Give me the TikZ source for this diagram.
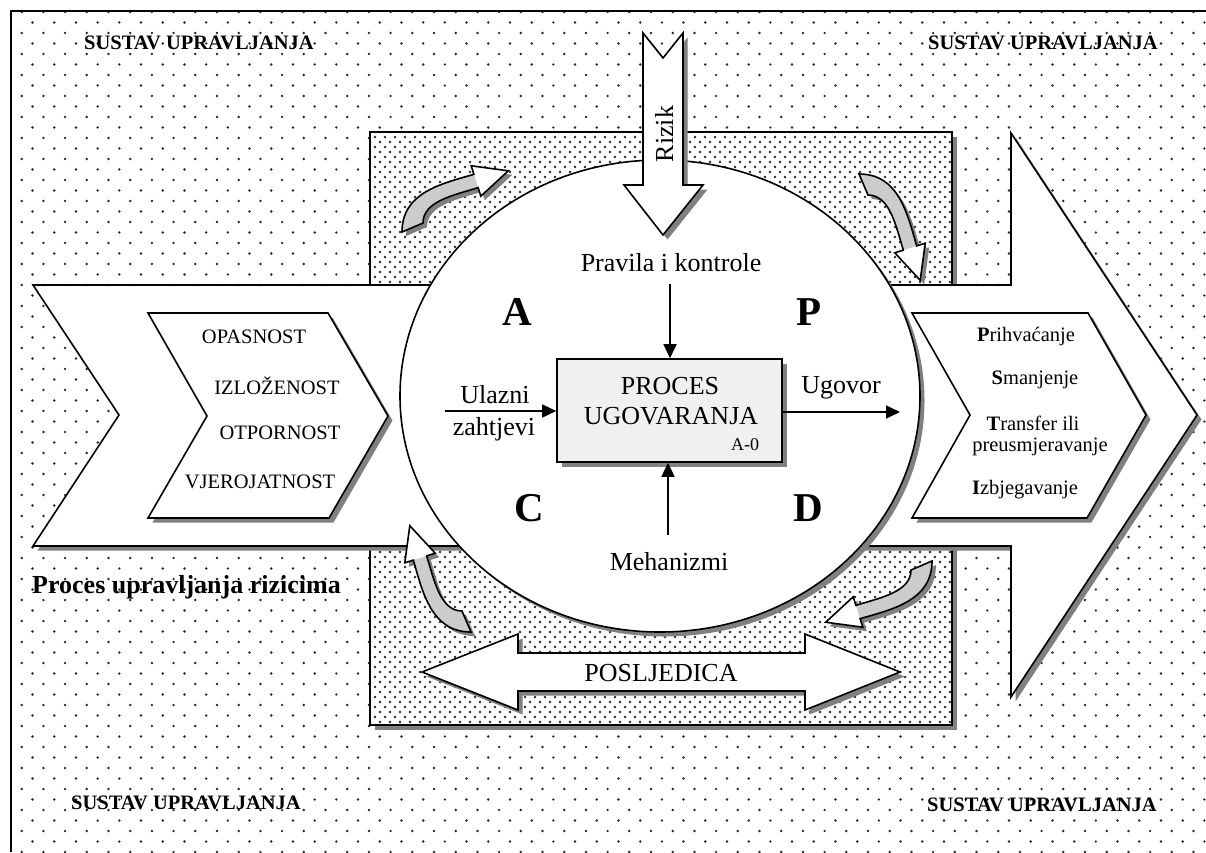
\documentclass[tikz,border=0pt]{standalone}
\usepackage{fontspec}
\setmainfont{Liberation Serif}
\usetikzlibrary{arrows.meta,shadows,patterns}
\pgfdeclarepatternformonly{sparsedots}{\pgfqpoint{-1.5pt}{-1.5pt}}{\pgfqpoint{23.2pt}{22.5pt}}{\pgfqpoint{21.7pt}{21pt}}{%
  \pgfpathcircle{\pgfqpoint{0pt}{0pt}}{1.35pt}%
  \pgfpathcircle{\pgfqpoint{10.85pt}{10.5pt}}{1.35pt}%
  \pgfusepath{fill}}
\pgfdeclarepatternformonly{densedots}{\pgfqpoint{-1.5pt}{-1.5pt}}{\pgfqpoint{11.5pt}{11.5pt}}{\pgfqpoint{10pt}{10pt}}{%
  \pgfpathcircle{\pgfqpoint{0pt}{0pt}}{1.3pt}%
  \pgfpathcircle{\pgfqpoint{5pt}{5pt}}{1.3pt}%
  \pgfusepath{fill}}
\newcommand\curvedarrow[3]{%
  \begin{scope}[shift={(#1+4,#2+4)},rotate=#3]
    \fill[black!50] (-54,31) .. controls (-54,-8) and (-16,-17) .. (17.9,-26.65) -- (15.2,-35.2) -- (52.3,-30.2) -- (24.8,-4.8) -- (22.1,-13.35) .. controls (-1.6,-5.9) and (-33,0) .. (-33,22) -- cycle;
  \end{scope}
  \begin{scope}[shift={(#1,#2)},rotate=#3]
    \fill[black!20] (-54,31) .. controls (-54,-8) and (-16,-17) .. (17.9,-26.65) -- (22.1,-13.35) .. controls (-1.6,-5.9) and (-33,0) .. (-33,22) -- cycle;
    \fill[white] (15.2,-35.2) -- (52.3,-30.2) -- (24.8,-4.8) -- cycle;
    \draw[ol] (-54,31) .. controls (-54,-8) and (-16,-17) .. (17.9,-26.65) -- (15.2,-35.2) -- (52.3,-30.2) -- (24.8,-4.8) -- (22.1,-13.35) .. controls (-1.6,-5.9) and (-33,0) .. (-33,22) -- cycle;
  \end{scope}}
\begin{document}
\begin{tikzpicture}[x=1pt,y=-1pt,
  ol/.style={draw=black,line width=1.6pt,line join=miter},
  shad/.style={drop shadow={shadow xshift=4.5pt,shadow yshift=-4.5pt,fill=black!50,opacity=1}},
  arr/.style={line width=1.6pt,-{Triangle[length=14pt,width=13pt]}},
  tx/.style={inner sep=0pt,font=\fontsize{26}{30}\selectfont},
  tsm/.style={inner sep=0pt,font=\fontsize{20.5}{24}\selectfont},
  tbig/.style={inner sep=0pt,font=\fontsize{41}{45}\selectfont\bfseries},
  tsus/.style={inner sep=0pt,font=\fontsize{20.5}{24}\selectfont\bfseries}]
\useasboundingbox (0,0) rectangle (1206,852);
\fill[white] (0,0) rectangle (1206,852);
% background dots
\fill[pattern=sparsedots,pattern color=black!85] (11,11) rectangle (1206,852);
\draw[line width=1.6pt] (11,852) -- (11,11) -- (1206,11);
% inner dense rectangle
\path[fill=white,shad] (370,132) rectangle (952,725);
\fill[pattern=densedots,pattern color=black!85] (370,132) rectangle (952,725);
\draw[ol] (370,132) rectangle (952,725);
% big arrow
\path[fill=white,ol,shad] (33,285) -- (1011,285) -- (1011,133) -- (1197,415) -- (1011,697) -- (1011,546) -- (33,546) -- (119,415) -- cycle;
% ellipse
\path[fill=white,ol,shad] (660,396) ellipse [x radius=260pt, y radius=236pt];
% Rizik arrow
\path[fill=white,ol,shad] (643,33) -- (663,58) -- (683,33) -- (683,185) -- (703,185) -- (663,235) -- (624,185) -- (643,185) -- cycle;
\node[tx,rotate=90] (rizik) at (664,134) {Rizik};
% POSLJEDICA arrow
\path[fill=white,ol,shad] (422,672) -- (518,634) -- (518,653) -- (805,653) -- (805,634) -- (900,672) -- (805,710) -- (805,691) -- (518,691) -- (518,710) -- cycle;
\node[tx] (posl) at (661,673) {POSLJEDICA};
% curved arrows
\curvedarrow{456}{201}{0}
\curvedarrow{890}{228}{-90}
\curvedarrow{878}{592}{180}
\curvedarrow{440}{578}{90}
% left inner chevron
\path[fill=white,ol,shad] (148,313) -- (328,313) -- (388,416) -- (329,518) -- (148,518) -- (207,416) -- cycle;
\node[tsm] (opas) at (254,337) {OPASNOST};
\node[tsm] (izlo) at (277,386) {IZLOŽENOST};
\node[tsm] (otpo) at (280,433) {OTPORNOST};
\node[tsm] (vjer) at (260,482) {VJEROJATNOST};
% right inner chevron
\path[fill=white,ol,shad] (912,313) -- (1088,313) -- (1146,415) -- (1087,518) -- (912,518) -- (970,415) -- cycle;
\node[tsm] (prih) at (1026,337) {\textbf{P}rihvaćanje};
\node[tsm] (sman) at (1035,380) {\textbf{S}manjenje};
\node[tsm] (tran) at (1033,423) {\textbf{T}ransfer ili};
\node[tsm] (preu) at (1040,447) {preusmjeravanje};
\node[tsm] (izbj) at (1025,490) {\textbf{I}zbjegavanje};
% process box
\node[draw,line width=1.6pt,fill=black!6,shad,minimum width=225pt,minimum height=103pt,inner sep=0pt] (box) at (669.5,410.5) {};
\node[tx] (proc) at (670,386) {PROCES};
\node[tx] (ugov) at (671,416) {UGOVARANJA};
\node[inner sep=0pt,font=\fontsize{18}{20}\selectfont] (a0) at (745,445) {A-0};
% ICOM arrows
\coordinate (ctop) at (670,284);
\coordinate (cin) at (445,411);
\coordinate (cout) at (900,412);
\coordinate (cbot) at (668,535);
\draw[arr] (ctop) -- (ctop |- box.north);
\draw[arr] (cin) -- (box.west |- cin);
\draw[arr] (box.east |- cout) -- (cout);
\draw[arr] (cbot) -- (cbot |- box.south);
\node[tx] (prav) at (671,263) {Pravila i kontrole};
\node[tx] (ulaz) at (495,395) {Ulazni};
\node[tx] (zaht) at (494,429) {zahtjevi};
\node[tx] (ugovor) at (841,388) {Ugovor};
\node[tx] (meh) at (669,562) {Mehanizmi};
% letters
\node[tbig] (la) at (517,312) {A};
\node[tbig] (lp) at (809,312) {P};
\node[tbig] (lc) at (529,508) {C};
\node[tbig] (ld) at (808,508) {D};
% labels
\node[tsus] (s1) at (199,43) {SUSTAV UPRAVLJANJA};
\node[tsus] (s2) at (1043,43) {SUSTAV UPRAVLJANJA};
\node[tsus] (s3) at (186,803) {SUSTAV UPRAVLJANJA};
\node[tsus] (s4) at (1042,805) {SUSTAV UPRAVLJANJA};
\node[inner sep=0pt,font=\fontsize{26}{30}\selectfont\bfseries,anchor=west] (pur) at (32,587) {Proces upravljanja rizicima};
\end{tikzpicture}
\end{document}
